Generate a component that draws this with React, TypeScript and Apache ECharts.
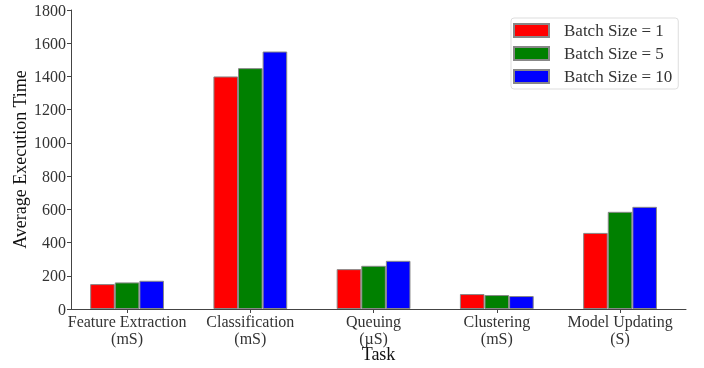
import React, { useEffect, useRef } from "react";
import * as echarts from "echarts";

const categories = [
  "Feature Extraction\n(mS)",
  "Classification\n(mS)",
  "Queuing\n(µS)",
  "Clustering\n(mS)",
  "Model Updating\n(S)",
];
const categoryPositions = [0, 1, 2, 3, 4];
const seriesNames = ["Batch Size = 1", "Batch Size = 5", "Batch Size = 10"];
const batch1 = [150, 1400, 240, 90, 458];
const batch5 = [160, 1450, 260, 84, 585];
const batch10 = [170, 1550, 290, 78, 615];
const yTicks = [0, 200, 400, 600, 800, 1000, 1200, 1400, 1600, 1800];
const colors = ["#ff0000", "#008000", "#0000ff"];

const FONT = "Liberation Serif";

export default function App() {
  const ref = useRef<HTMLDivElement>(null);
  useEffect(() => {
    if (!ref.current) return;
    const chart = echarts.init(ref.current, undefined, { renderer: "svg" });
    const data = [batch1, batch5, batch10];
    chart.setOption({
      animation: false,
      textStyle: { fontFamily: FONT },
      grid: { left: 71, right: 18, top: 10, bottom: 59, outerBoundsMode: "none", containLabel: false },
      legend: {
        orient: "vertical",
        left: 511,
        top: 18,
        padding: [4, 6, 4, 2],
        itemWidth: 35,
        itemHeight: 13,
        itemGap: 6,
        borderColor: "#dddddd",
        borderWidth: 1,
        borderRadius: 3,
        textStyle: {
          fontFamily: FONT,
          fontSize: 17,
          color: "#333",
          lineHeight: 17,
          padding: [0, 0, 0, 10],
        },
        data: seriesNames.map((n) => ({ name: n, icon: "rect" })),
      },
      xAxis: {
        type: "value",
        min: -0.455,
        max: 4.535,
        name: "Task",
        nameLocation: "middle",
        nameGap: 36,
        nameMoveOverlap: false,
        nameTextStyle: { fontFamily: FONT, fontSize: 18, color: "#111" },
        axisLine: { show: true, onZero: false, lineStyle: { color: "#444", width: 1 } },
        axisTick: {
          show: true,
          length: 4,
          customValues: categoryPositions,
          lineStyle: { color: "#444" },
        },
        splitLine: { show: false },
        axisLabel: {
          fontFamily: FONT,
          fontSize: 16,
          color: "#333",
          lineHeight: 17,
          margin: 4,
          customValues: categoryPositions,
          formatter: (v: number) => categories[Math.round(v)] ?? "",
        },
      },
      yAxis: {
        type: "value",
        min: 0,
        max: 1800,
        interval: 200,
        name: "Average Execution Time",
        nameLocation: "middle",
        nameGap: 42,
        nameMoveOverlap: false,
        nameTextStyle: { fontFamily: FONT, fontSize: 18, color: "#111" },
        axisLine: { show: true, onZero: false, lineStyle: { color: "#444", width: 1 } },
        axisTick: { show: true, length: 4, lineStyle: { color: "#444" } },
        splitLine: { show: false },
        axisLabel: {
          fontFamily: FONT,
          fontSize: 16,
          color: "#333",
          margin: 5,
          customValues: yTicks,
          formatter: (v: number) => String(v),
        },
      },
      series: seriesNames.map((name, i) => ({
        name,
        type: "bar",
        data: data[i].map((v, j) => [categoryPositions[j], v]),
        barWidth: 24.6,
        barGap: "0%",
        itemStyle: { color: colors[i], borderColor: "#888", borderWidth: 1 },
      })),
    });
    return () => chart.dispose();
  }, []);
  return (
    <div
      ref={ref}
      style={{ position: "fixed", left: 0, top: 0, width: 704, height: 368 }}
    />
  );
}
